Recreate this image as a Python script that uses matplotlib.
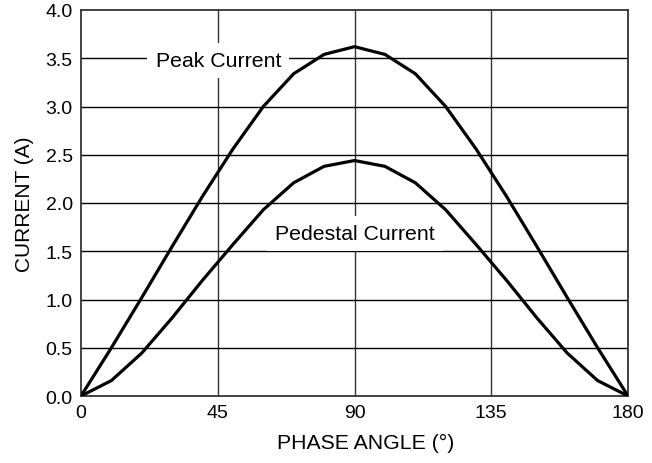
import matplotlib
matplotlib.use("Agg")
import matplotlib.pyplot as plt

phase_deg = [0, 10, 20, 30, 40, 50, 60, 70, 80, 90, 100, 110, 120, 130, 140, 150, 160, 170, 180]
peak_current = [0, 0.50, 1.02, 1.55, 2.07, 2.56, 3.00, 3.34, 3.54, 3.62,
                3.54, 3.34, 3.00, 2.56, 2.07, 1.55, 1.02, 0.50, 0]
pedestal_current = [0, 0.16, 0.445, 0.81, 1.20, 1.57, 1.93, 2.21, 2.38, 2.44,
                    2.38, 2.21, 1.93, 1.57, 1.20, 0.81, 0.445, 0.16, 0]
x_ticks = [0, 45, 90, 135, 180]
y_ticks = [0.0, 0.5, 1.0, 1.5, 2.0, 2.5, 3.0, 3.5, 4.0]

plt.rcParams['font.family'] = ['Liberation Sans', 'DejaVu Sans']

fig = plt.figure(figsize=(6.52, 4.64), dpi=100)
ax = fig.add_axes([81/652, 1 - 397/464, (628-81)/652, (397-11)/464])

ax.plot(phase_deg, peak_current, color='black', lw=2.3, solid_joinstyle='miter', zorder=3)
ax.plot(phase_deg, pedestal_current, color='black', lw=2.3, solid_joinstyle='miter', zorder=3)

ax.set_xlim(0, 180)
ax.set_ylim(0, 4.0)
ax.set_xticks(x_ticks)
ax.set_yticks(y_ticks)
ax.set_yticklabels([f"{v:.1f}" for v in y_ticks])
ax.tick_params(length=0, labelsize=14, pad=6)

for v in x_ticks[1:-1]:
    ax.axvline(v, color='#333333', lw=1.0, zorder=1)
for v in y_ticks[1:-1]:
    ax.axhline(v, color='black', lw=1.0, zorder=1)

for s in ax.spines.values():
    s.set_color('#333333')
    s.set_linewidth(1.3)

ax.set_xlabel('PHASE ANGLE (°)', fontsize=15.3)
ax.xaxis.set_label_coords((366 - 81) / 547, -0.095)
ax.set_ylabel('CURRENT (A)', fontsize=15, labelpad=8)

box = dict(facecolor='white', edgecolor='none', pad=6)
ax.text(45.2, 3.477, 'Peak Current', fontsize=15.3, ha='center', va='center', bbox=box, zorder=2)
ax.text(90.2, 1.684, 'Pedestal Current', fontsize=15.3, ha='center', va='center', bbox=box, zorder=2)

fig.savefig('out.png', dpi=100)
